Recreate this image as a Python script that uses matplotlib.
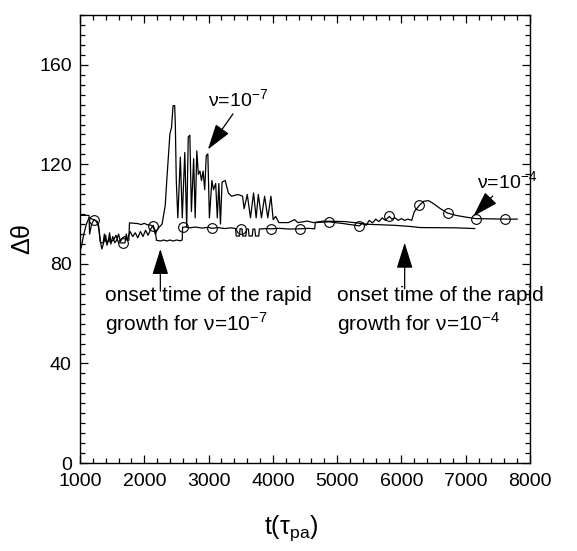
# plot.py
# Angle difference vs time for two viscosities, with onset annotations.

import matplotlib
matplotlib.use("Agg")
import matplotlib.pyplot as plt
from matplotlib.ticker import MultipleLocator

plt.rcParams["font.family"] = ["Liberation Sans", "DejaVu Sans"]
plt.rcParams["mathtext.fontset"] = "custom"
plt.rcParams["mathtext.rm"] = "Liberation Sans"

# nu = 1e-7 (no markers)
nu7_t = [1000, 1030, 1060, 1100, 1140, 1190, 1240, 1290, 1310, 1340, 1370, 1400, 1420,
         1450, 1480, 1510, 1540, 1570, 1600, 1630, 1660, 1700, 1740, 1780, 1820, 1860,
         1900, 1940, 1980, 2020, 2060, 2100, 2140, 2170, 2200, 2230, 2277, 2326, 2350,
         2399, 2424, 2448, 2473, 2483, 2498, 2522, 2561, 2591, 2630, 2660, 2684, 2709,
         2733, 2768, 2792, 2817, 2841, 2866, 2890, 2915, 2940, 2964, 2989, 3013, 3052,
         3077, 3111, 3136, 3160, 3185, 3210, 3259, 3308, 3357, 3455, 3529, 3553, 3602,
         3652, 3700, 3740, 3774, 3823, 3872, 3921, 3970, 4005, 4044, 4093, 4241, 4339,
         4388, 4535, 4633, 4781, 5124, 5300, 5418, 5600, 5900, 6155, 6300, 6843, 7140]
nu7_v = [84.8, 88, 92, 96, 98.5, 98, 97.5, 95.5, 90, 86, 88.5, 91.5, 87.5,
         90.5, 88, 91, 88.5, 89.5, 92, 89, 90.5, 91, 90, 93, 91, 92.5,
         90.5, 93, 91, 93.5, 91.5, 94, 95.5, 92, 93.5, 94.7, 96, 103.5, 113.5,
         132.3, 134.8, 143.6, 143.6, 136.1, 113.5, 98.5, 122.9, 98.5, 124.8, 94.7, 131.0, 131.7,
         101.0, 122.3, 98.5, 125.4, 116.0, 117.3, 113.5, 117.3, 109.8, 123.5, 124.2, 98.5, 113.5,
         109.8, 112.3, 98.5, 112.3, 96.0, 112.9, 113.5, 108.5, 107.2, 107.9, 107.2, 102.2, 107.9,
         98.5, 108.5, 98.5, 107.9, 98.5, 107.2, 98.5, 107.2, 97.8, 99.1, 96.6, 96.6, 97.8,
         96.6, 97.2, 96.6, 97.2, 97.0, 96.5, 96.0, 95.8, 95.5, 95.0, 94.6, 94.5, 94.2]

# nu = 1e-4 (line drawn with open circles)
nu4_t = [1000, 1140, 1150, 1180, 1221, 1270, 1300, 1320, 1360, 1380, 1400, 1440, 1460,
         1480, 1520, 1560, 1600, 1672, 1700, 1720, 1740, 1760, 1770, 1850, 1900, 1950,
         2000, 2050, 2100, 2129, 2170, 2190, 2250, 2300, 2350, 2400, 2450, 2500, 2560,
         2590, 2596, 2650, 2700, 2800, 2900, 3000, 3052, 3150, 3250, 3350, 3420, 3430,
         3480, 3490, 3504, 3520, 3530, 3580, 3590, 3620, 3630, 3680, 3690, 3720, 3730,
         3780, 3790, 3900, 3970, 4100, 4250, 4422, 4550, 4650, 4660, 4800, 4879, 5000,
         5100, 5200, 5345, 5400, 5450, 5500, 5550, 5600, 5650, 5700, 5750, 5811, 5850,
         5900, 5950, 6000, 6050, 6100, 6160, 6200, 6277, 6350, 6424, 6500, 6600, 6719,
         6850, 7000, 7161, 7400, 7616, 7800]
nu4_v = [99.5, 99.5, 92, 96, 97.8, 97, 93, 88.5, 88.5, 92, 89, 89, 92.5,
         89, 89.5, 91.5, 88.5, 88.4, 88.5, 92, 89.5, 89.5, 96.5, 96.3, 96.2, 95.8,
         96.3, 95.7, 95.6, 95.1, 93.5, 89.5, 89.2, 89.6, 89.2, 89.6, 89.2, 89.6, 89.3,
         89.6, 94.7, 94.9, 94.5, 94.8, 94.4, 94.7, 94.3, 94.6, 94.2, 94.5, 94.2, 91.2,
         91.2, 94.1, 94.1, 94.1, 91.2, 91.2, 94.0, 94.0, 91.2, 91.2, 94.0, 94.0, 91.2,
         91.2, 94.0, 94.2, 94.1, 94.3, 94.0, 94.1, 94.3, 94.1, 96.6, 96.8, 96.9, 96.5,
         96.2, 95.8, 95.3, 96.5, 95.5, 97.5, 96.5, 98.0, 97.0, 98.5, 97.5, 99.1, 98.0,
         98.5, 97.5, 98.2, 97.5, 98.0, 97.5, 101.0, 103.5, 105.2, 105.4, 104.2, 102.3, 100.4,
         99.5, 98.8, 98.2, 98.1, 98.0, 98.0]

# circle marker positions on the nu = 1e-4 curve
cir_t = [1221, 1672, 2129, 2596, 3052, 3504, 3970, 4422, 4879, 5345, 5811, 6277, 6719, 7161, 7616]
cir_v = [97.8, 88.4, 95.1, 94.7, 94.3, 94.1, 94.1, 94.1, 96.9, 95.3, 99.1, 103.5, 100.4, 98.2, 98.0]

x_ticks = [1000, 2000, 3000, 4000, 5000, 6000, 7000, 8000]
y_ticks = [0, 40, 80, 120, 160]

fig = plt.figure(figsize=(5.77, 5.51), dpi=100)
ax = fig.add_axes([0.1386, 0.1597, 0.78, 0.813])

ax.plot(nu7_t, nu7_v, color="black", lw=0.9)
ax.plot(nu4_t, nu4_v, color="black", lw=0.9)
ax.plot(cir_t, cir_v, "o", ms=7, mfc="none", mec="black", mew=0.8)

ax.set_xlim(1000, 8000)
ax.set_ylim(0, 180)
ax.set_xticks(x_ticks)
ax.set_yticks(y_ticks)
ax.xaxis.set_minor_locator(MultipleLocator(200))
ax.yaxis.set_minor_locator(MultipleLocator(4))
ax.tick_params(which="both", direction="in", top=True, right=True, labelsize=14)
ax.tick_params(which="major", length=6, width=0.9)
ax.tick_params(which="minor", length=3.5, width=0.9)
ax.tick_params(axis="x", which="major", pad=7)
ax.tick_params(axis="y", which="major", pad=6)
for s in ax.spines.values():
    s.set_linewidth(1.0)

ax.set_xlabel(r"t($\mathregular{\tau_{pa}}$)", fontsize=18, labelpad=17, x=0.47)
ax.set_ylabel(r"$\mathregular{\Delta\theta}$", fontsize=18, labelpad=3)

# arrows
head = dict(arrowstyle="-|>,head_length=1.6,head_width=0.5", mutation_scale=10,
            color="black", lw=0.9, shrinkA=0, shrinkB=0)

ax.annotate("ν=10" + r"$^{\mathregular{-7}}$", xy=(2990, 126), xytext=(2990, 143),
            fontsize=14, ha="left", va="baseline",
            arrowprops=dict(head, relpos=(0.45, 0)))
ax.annotate("ν=10" + r"$^{\mathregular{-4}}$", xy=(7120, 99.2), xytext=(7180, 110),
            fontsize=14, ha="left", va="baseline",
            arrowprops=dict(head, relpos=(0.3, 0)))

# onset arrows
ax.annotate("", xy=(2250, 86), xytext=(2250, 69), arrowprops=head)
ax.annotate("", xy=(6050, 88.5), xytext=(6050, 70), arrowprops=head)

ax.text(1390, 61, "onset time of the rapid\ngrowth for ν=10" + r"$^{\mathregular{-7}}$",
        fontsize=15, ha="left", va="center", linespacing=1.25)
ax.text(5000, 61, "onset time of the rapid\ngrowth for ν=10" + r"$^{\mathregular{-4}}$",
        fontsize=15, ha="left", va="center", linespacing=1.25)

fig.savefig("out.png", dpi=100)
